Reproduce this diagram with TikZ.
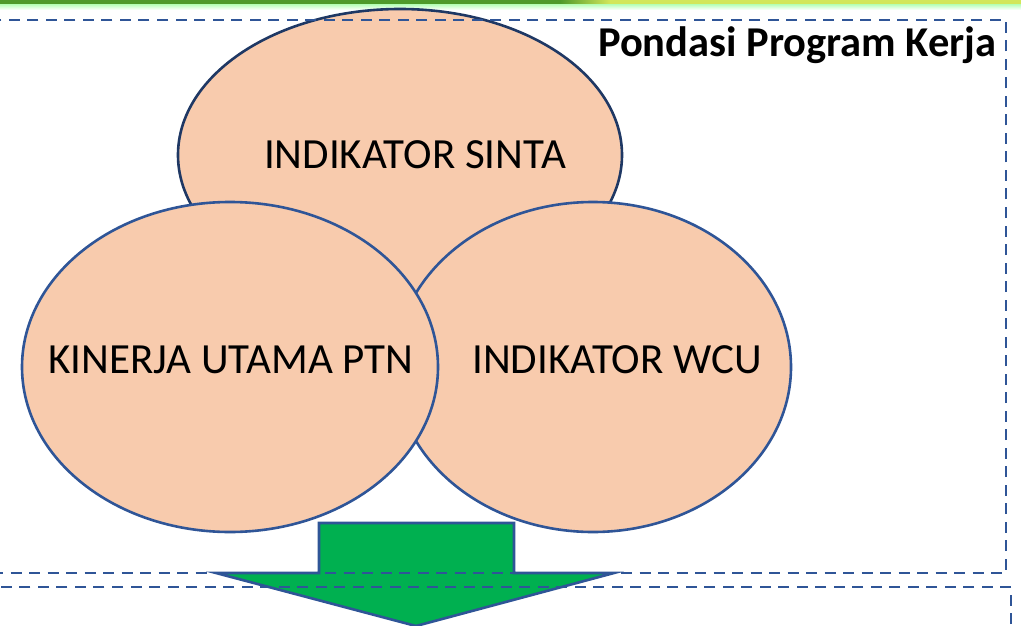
\documentclass[tikz,border=0pt]{standalone}
\usepackage{fontspec}
\setmainfont{Carlito}
\usetikzlibrary{shapes.geometric}
\definecolor{peach}{HTML}{F8CBAD}
\definecolor{edgeblue}{HTML}{2F5597}
\definecolor{navy}{HTML}{1F3864}
\definecolor{arrowgreen}{HTML}{00B050}
\definecolor{bardark}{HTML}{4E9A2A}
\definecolor{barlight}{HTML}{D2E65A}
\tikzset{
  bubble/.style={ellipse, draw=edgeblue, line width=2.6pt, fill=peach, inner sep=0pt},
  bubbletext/.style={font=\fontsize{43}{50}\selectfont, text=black, inner sep=0pt},
  framebox/.style={draw=edgeblue, line width=2.7pt, dash pattern=on 11pt off 7.5pt},
  bigarrow/.style={draw=edgeblue, line width=2.6pt, fill=arrowgreen, line join=miter},
  titletext/.style={font=\fontsize{42.5}{48}\selectfont\bfseries, text=black, inner sep=0pt, anchor=east}
}
\begin{document}
\begin{tikzpicture}[x=1pt,y=-1pt]
\useasboundingbox (0,0) rectangle (1021,626);
% top bar
\shade[left color=bardark, right color=bardark] (0,0) rectangle (560,5);
\shade[left color=bardark, right color=barlight] (560,0) rectangle (610,5);
\shade[left color=barlight, right color=barlight] (610,0) rectangle (1021,5);
\shade[top color=green!25!white, bottom color=white] (0,5) rectangle (1021,10);
% ellipses
\node[bubble, draw=navy, minimum width=444pt, minimum height=292pt] (sinta) at (400,155) {};
\node[bubble, minimum width=396pt, minimum height=330pt] (wcu) at (593,367) {};
\node[bubble, minimum width=416pt, minimum height=330pt] (ptn) at (230,367) {};
\node[bubbletext] (sintat) at (415,155) {INDIKATOR SINTA};
\node[bubbletext] (wcut) at (617,360) {INDIKATOR WCU};
\node[bubbletext] (ptnt) at (231,360) {KINERJA UTAMA PTN};
% arrow
\draw[bigarrow] (319,523) coordinate (a1) -- (514,523) -- (514,573) -- (614,573) -- (416,626) coordinate (tip) -- (216,573) -- (319,573) -- cycle;
% frames
\draw[framebox] (-10,20) rectangle (1006,573);
\draw[framebox] (-10,587) rectangle (1011,650);
\node[titletext] (title) at (997,45) {Pondasi Program Kerja};
\end{tikzpicture}
\end{document}
